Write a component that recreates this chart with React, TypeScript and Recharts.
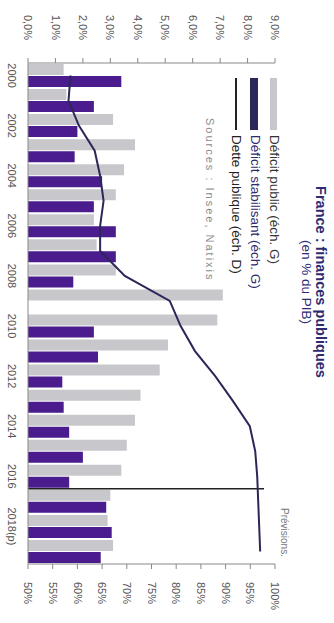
import React from 'react';
import { ComposedChart, Bar, Line, XAxis, YAxis, ReferenceLine } from 'recharts';

const years = ['2000', '2001', '2002', '2003', '2004', '2005', '2006', '2007', '2008', '2009', '2010', '2011', '2012', '2013', '2014', '2015', '2016', '2017(p)', '2018(p)', '2019(p)'];
const deficitPublic = [1.3, 1.4, 3.1, 3.9, 3.5, 3.2, 2.4, 2.5, 3.2, 7.1, 6.9, 5.1, 4.8, 4.1, 3.9, 3.6, 3.4, 3.0, 2.9, 3.1];
const deficitStabilisant = [3.4, 2.4, 1.8, 1.7, 2.7, 2.4, 3.2, 3.2, 1.65, 0, 2.4, 2.55, 1.25, 1.3, 1.5, 2.0, 1.5, 2.85, 3.05, 2.65];
const dettePublique = [58.6, 58.2, 60.3, 63.5, 64.6, 65.3, 64.6, 64.6, 69.6, 78.7, 80.9, 83.8, 87.9, 91.5, 94.9, 96.0, 96.4, 96.6, 96.8, 97.0];
const leftTicks = [0, 1, 2, 3, 4, 5, 6, 7, 8, 9];
const rightTicks = [50, 55, 60, 65, 70, 75, 80, 85, 90, 95, 100];
const forecastStart = '2017(p)';

const title = 'France : finances publiques';
const subtitle = '(en % du PIB)';
const legendLabels = ['Déficit public (éch. G)', 'Déficit stabilisant (éch. G)', 'Dette publique (éch. D)'];
const sourceText = 'Sources : Insee, Natixis';
const forecastLabel = 'Prévisions.';

const data = years.map((y, i) => ({
  year: y,
  dp: deficitPublic[i],
  ds: deficitStabilisant[i],
  dette: dettePublique[i],
}));

const FONT = '"Liberation Sans", Arial, sans-serif';
const GRAY = '#c8c8cc';
const PURPLE = '#4a1c8e';
const NAVY = '#2b2758';

export default function App() {
  return (
    <div
      style={{
        position: 'absolute',
        left: 0,
        top: 0,
        width: 623,
        height: 334,
        background: '#fff',
        transformOrigin: '0 0',
        transform: 'translateX(334px) rotate(90deg)',
        fontFamily: FONT,
      }}
    >
      <ComposedChart
        width={623}
        height={334}
        data={data}
        margin={{ top: 59, right: 0, bottom: 0, left: 0 }}
        barCategoryGap={1}
        barGap={1}
      >
        <XAxis
          dataKey="year"
          height={28}
          interval={1}
          tickSize={0}
          tickMargin={12}
          axisLine={{ stroke: '#888' }}
          tickLine={false}
          tick={{ fontSize: 11, fill: '#555', fontFamily: FONT }}
        />
        <YAxis
          yAxisId="left"
          width={63}
          domain={[0, 9]}
          ticks={leftTicks}
          interval={0}
          tickFormatter={(v: number) => v.toFixed(1).replace('.', ',') + '%'}
          tickSize={5}
          tickMargin={18}
          axisLine={{ stroke: '#888' }}
          tickLine={{ stroke: '#888' }}
          tick={{ fontSize: 11, fill: '#555', fontFamily: FONT }}
        />
        <YAxis
          yAxisId="right"
          orientation="right"
          width={59}
          domain={[50, 100]}
          ticks={rightTicks}
          interval={0}
          tickFormatter={(v: number) => v + '%'}
          tickSize={5}
          tickMargin={13}
          axisLine={{ stroke: '#888' }}
          tickLine={{ stroke: '#888' }}
          tick={{ fontSize: 11, fill: '#555', fontFamily: FONT }}
        />
        <Bar yAxisId="left" dataKey="dp" fill={GRAY} isAnimationActive={false} />
        <Bar yAxisId="left" dataKey="ds" fill={PURPLE} isAnimationActive={false} />
        <ReferenceLine
          yAxisId="left"
          position="start"
          segment={[{ x: forecastStart, y: 0 }, { x: forecastStart, y: 8.6 }]}
          stroke="#222"
          strokeWidth={1.5}
        />
        <Line
          yAxisId="right"
          dataKey="dette"
          stroke={NAVY}
          strokeWidth={2}
          dot={false}
          isAnimationActive={false}
        />
      </ComposedChart>

      <div style={{ position: 'absolute', left: 132, top: 5, width: 300, textAlign: 'center', color: '#2e2b73', fontWeight: 'bold', fontSize: 14.5, lineHeight: '17px' }}>
        {title}
      </div>
      <div style={{ position: 'absolute', left: 132, top: 20, width: 300, textAlign: 'center', color: '#2e2b73', fontSize: 13.5, lineHeight: '16px' }}>
        {subtitle}
      </div>

      <div style={{ position: 'absolute', left: 78, top: 57, width: 52, height: 7, background: GRAY }} />
      <div style={{ position: 'absolute', left: 135, top: 52, fontSize: 13.5, lineHeight: '16px', color: '#333', whiteSpace: 'nowrap' }}>{legendLabels[0]}</div>
      <div style={{ position: 'absolute', left: 78, top: 76, width: 52, height: 8, background: NAVY }} />
      <div style={{ position: 'absolute', left: 135, top: 71, fontSize: 13.5, lineHeight: '16px', color: '#2e2a6e', whiteSpace: 'nowrap' }}>{legendLabels[1]}</div>
      <div style={{ position: 'absolute', left: 78, top: 97, width: 52, height: 2, background: '#222' }} />
      <div style={{ position: 'absolute', left: 135, top: 90, fontSize: 13.5, lineHeight: '16px', color: '#222', whiteSpace: 'nowrap' }}>{legendLabels[2]}</div>

      <div style={{ position: 'absolute', left: 118, top: 117, fontSize: 11, lineHeight: '14px', color: '#8a8a8a', letterSpacing: 2, whiteSpace: 'nowrap' }}>{sourceText}</div>

      <div style={{ position: 'absolute', left: 508, top: 44, fontSize: 10, lineHeight: '12px', color: '#777', whiteSpace: 'nowrap' }}>{forecastLabel}</div>
    </div>
  );
}
